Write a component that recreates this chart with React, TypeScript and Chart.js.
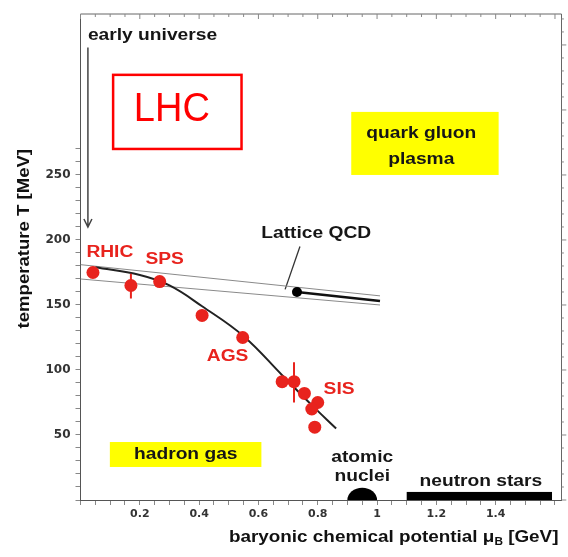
import { useEffect, useRef } from 'react';
import { Chart, registerables } from 'chart.js';

Chart.register(...registerables);

// ---------- data ----------
// chemical freeze-out points (mu_B in GeV, T in MeV)
const expMu = [0.042, 0.17, 0.267, 0.41, 0.547, 0.68, 0.72, 0.755, 0.8, 0.78, 0.79];
const expT = [175, 165, 168, 142, 125, 91, 91, 82, 75, 70, 56];
// vertical error bars
const errMu = [0.17, 0.72];
const errLow = [155, 75];
const errHigh = [174, 106];
// freeze-out curve
const curveMu = [0.05, 0.2, 0.3, 0.41, 0.55, 0.68, 0.78, 0.862];
const curveT = [179, 173, 165, 149, 126, 96, 73, 55];
// lattice QCD band
const latticeMu = [0, 1.01];
const latticeUpper = [181, 157];
const latticeLower = [170, 150];
const latticeLineMu = [0.73, 1.01];
const latticeLineT = [160, 153];
const latticePointMu = [0.73];
const latticePointT = [160];
// pointer from the "Lattice QCD" label
const pointerMu = [0.74, 0.69];
const pointerT = [195, 162];
// axes
const xMin = 0;
const xMax = 1.622;
const yMin = 0;
const yMax = 373.8;
const xTickLabels = [0.2, 0.4, 0.6, 0.8, 1, 1.2, 1.4];
const yTickLabels = [50, 100, 150, 200, 250];

const FONT = '"Liberation Sans", Arial, Helvetica, sans-serif';
const RED = '#e8231d';
const INK = '#161616';

function pts(xs: number[], ys: number[]) {
  return xs.map((x, i) => ({ x, y: ys[i] }));
}

function drawText(
  ctx: CanvasRenderingContext2D,
  s: string,
  x: number,
  y: number,
  o: { size?: number; weight?: string; color?: string; align?: CanvasTextAlign; stretch?: number; rotate?: number } = {}
) {
  const { size = 16, weight = 'bold', color = INK, align = 'center', stretch = 1.2, rotate = 0 } = o;
  ctx.save();
  ctx.translate(x, y);
  if (rotate) ctx.rotate(rotate);
  ctx.scale(stretch, 1);
  ctx.font = `${weight} ${size}px ${FONT}`;
  ctx.fillStyle = color;
  ctx.textAlign = align;
  ctx.textBaseline = 'middle';
  ctx.fillText(s, 0, 0);
  ctx.restore();
}

const decorPlugin = {
  id: 'decor',
  beforeDatasetsDraw(chart: any) {
    const { ctx, scales } = chart;
    const X = (v: number) => scales.x.getPixelForValue(v);
    const Y = (v: number) => scales.y.getPixelForValue(v);
    ctx.save();
    ctx.fillStyle = '#ffff00';
    // quark gluon plasma box
    ctx.fillRect(X(0.913), Y(298.5), X(1.41) - X(0.913), Y(250) - Y(298.5));
    // hadron gas box
    ctx.fillRect(X(0.099), Y(44.6), X(0.61) - X(0.099), Y(25.4) - Y(44.6));
    // LHC box
    ctx.strokeStyle = '#ff0000';
    ctx.lineWidth = 2.5;
    ctx.strokeRect(X(0.11), Y(327), X(0.543) - X(0.11), Y(270) - Y(327));
    ctx.restore();
  },
  afterDatasetsDraw(chart: any) {
    const { ctx, scales, chartArea } = chart;
    const X = (v: number) => scales.x.getPixelForValue(v);
    const Y = (v: number) => scales.y.getPixelForValue(v);
    ctx.save();

    // frame top / right with small ticks
    ctx.strokeStyle = '#666';
    ctx.lineWidth = 1;
    ctx.beginPath();
    ctx.moveTo(chartArea.left, chartArea.top);
    ctx.lineTo(chartArea.right, chartArea.top);
    ctx.lineTo(chartArea.right, chartArea.bottom);
    ctx.stroke();
    ctx.strokeStyle = '#888';
    ctx.beginPath();
    for (const t of scales.y.ticks) {
      if (t.value > 370) continue;
      const py = Y(t.value);
      const len = t.value % 50 === 0 ? 6 : 3;
      ctx.moveTo(chartArea.right, py);
      ctx.lineTo(chartArea.right + len * 0.8, py);
    }
    for (const t of scales.x.ticks) {
      const px = X(t.value);
      const major = Math.abs(t.value * 5 - Math.round(t.value * 5)) < 1e-6;
      ctx.moveTo(px, chartArea.top);
      ctx.lineTo(px, chartArea.top + (major ? 5 : 3));
    }
    ctx.stroke();

    // early universe arrow
    ctx.strokeStyle = '#444';
    ctx.lineWidth = 1.5;
    ctx.beginPath();
    ctx.moveTo(X(0.025), Y(348));
    ctx.lineTo(X(0.025), Y(210));
    ctx.moveTo(X(0.025) - 4, Y(210) - 8);
    ctx.lineTo(X(0.025), Y(210));
    ctx.lineTo(X(0.025) + 4, Y(210) - 8);
    ctx.stroke();

    // atomic nuclei half disc
    ctx.fillStyle = '#000';
    ctx.beginPath();
    const rx = X(1.0) - X(0.95);
    const ry = Y(0) - Y(9.5);
    ctx.ellipse(X(0.95), Y(0), rx, ry, 0, Math.PI, 2 * Math.PI);
    ctx.closePath();
    ctx.fill();
    // neutron star bar
    ctx.fillRect(X(1.1), Y(6.2), X(1.59) - X(1.1), Y(0) - Y(6.2));

    // texts
    drawText(ctx, 'early universe', X(0.025), Y(357), { align: 'left' });
    drawText(ctx, 'LHC', X(0.308), Y(300), { size: 40, weight: 'normal', color: '#ff0000', stretch: 0.95 });
    drawText(ctx, 'quark gluon', X(1.149), Y(282));
    drawText(ctx, 'plasma', X(1.149), Y(262));
    drawText(ctx, 'hadron gas', X(0.355), Y(34.6));
    drawText(ctx, 'atomic', X(0.95), Y(32.3));
    drawText(ctx, 'nuclei', X(0.95), Y(17.7));
    drawText(ctx, 'neutron stars', X(1.35), Y(13.8));
    drawText(ctx, 'Lattice QCD', X(0.795), Y(204.6));
    drawText(ctx, 'RHIC', X(0.099), Y(190), { color: RED });
    drawText(ctx, 'SPS', X(0.284), Y(184.6), { color: RED });
    drawText(ctx, 'AGS', X(0.496), Y(110), { color: RED });
    drawText(ctx, 'SIS', X(0.872), Y(84.6), { color: RED });

    // axis titles
    drawText(ctx, 'temperature T [MeV]', chartArea.left - 56, Y(201), {
      rotate: -Math.PI / 2,
      stretch: 1.16,
      color: '#111',
    });
    const st = 1.18;
    ctx.font = `bold 16px ${FONT}`;
    const p1 = 'baryonic chemical potential μ';
    const p3 = ' [GeV]';
    const w1 = ctx.measureText(p1).width * st;
    const w3 = ctx.measureText(p3).width * st;
    ctx.font = `bold 10px ${FONT}`;
    const w2 = ctx.measureText('B').width * st;
    const right = chartArea.right - 3;
    const ty = 538;
    let sx = right - (w1 + w2 + w3);
    drawText(ctx, p1, sx, ty, { align: 'left', stretch: st, color: '#111' });
    sx += w1;
    drawText(ctx, 'B', sx, ty + 4, { align: 'left', stretch: st, size: 10, color: '#111' });
    sx += w2;
    drawText(ctx, p3, sx, ty, { align: 'left', stretch: st, color: '#111' });

    ctx.restore();
  },
};

function errorBarData() {
  const out: { x: number; y: number | null }[] = [];
  errMu.forEach((m, i) => {
    out.push({ x: m, y: errLow[i] });
    out.push({ x: m, y: errHigh[i] });
    out.push({ x: m, y: null });
  });
  return out;
}

export default function App() {
  const ref = useRef<HTMLCanvasElement>(null);
  useEffect(() => {
    if (!ref.current) return;
    const chart = new Chart(ref.current, {
      type: 'scatter',
      data: {
        datasets: [
          {
            label: 'freeze-out points',
            data: pts(expMu, expT),
            pointRadius: 6.5,
            pointHoverRadius: 6.5,
            backgroundColor: RED,
            borderWidth: 0,
            showLine: false,
            order: 0,
          },
          {
            label: 'errors',
            data: errorBarData() as any,
            showLine: true,
            spanGaps: false,
            pointRadius: 0,
            borderColor: RED,
            borderWidth: 2,
            order: 1,
          },
          {
            label: 'lattice point',
            data: pts(latticePointMu, latticePointT),
            pointRadius: 5,
            backgroundColor: '#000',
            borderWidth: 0,
            showLine: false,
            order: 1,
          },
          {
            label: 'curve',
            data: pts(curveMu, curveT),
            showLine: true,
            pointRadius: 0,
            borderColor: '#222',
            borderWidth: 2,
            tension: 0.4,
            order: 2,
          },
          {
            label: 'lattice line',
            data: pts(latticeLineMu, latticeLineT),
            showLine: true,
            pointRadius: 0,
            borderColor: '#111',
            borderWidth: 2.5,
            order: 3,
          },
          {
            label: 'lattice upper',
            data: pts(latticeMu, latticeUpper),
            showLine: true,
            pointRadius: 0,
            borderColor: '#8a8a8a',
            borderWidth: 1,
            order: 4,
          },
          {
            label: 'lattice lower',
            data: pts(latticeMu, latticeLower),
            showLine: true,
            pointRadius: 0,
            borderColor: '#8a8a8a',
            borderWidth: 1,
            order: 4,
          },
          {
            label: 'pointer',
            data: pts(pointerMu, pointerT),
            showLine: true,
            pointRadius: 0,
            borderColor: '#333',
            borderWidth: 1.3,
            order: 4,
          },
        ],
      },
      options: {
        animation: false,
        responsive: false,
        devicePixelRatio: 1,
        layout: { padding: { top: 14, right: 5, left: 0, bottom: 0 } },
        plugins: { legend: { display: false }, tooltip: { enabled: false } },
        events: [],
        scales: {
          x: {
            type: 'linear',
            min: xMin,
            max: xMax,
            afterBuildTicks: (scale: any) => {
              const t = [];
              for (let i = 0; i <= 32; i++) t.push({ value: Math.round(i * 5) / 100 });
              scale.ticks = t;
            },
            afterFit: (scale: any) => {
              scale.height = 57;
            },
            ticks: {
              autoSkip: false,
              maxRotation: 0,
              padding: 3,
              color: '#333',
              font: { family: '"DejaVu Sans"', weight: 'bold', size: 11 },
              callback: (v: any) => {
                const r = Math.round(Number(v) * 100) / 100;
                return xTickLabels.includes(r) ? String(r) : '';
              },
            },
            grid: {
              drawOnChartArea: false,
              drawTicks: true,
              tickLength: 5,
              tickColor: '#888',
            },
            border: { display: true, color: '#555', width: 1 },
          },
          y: {
            type: 'linear',
            min: yMin,
            max: yMax,
            afterBuildTicks: (scale: any) => {
              const t = [];
              for (let i = 0; i <= 37; i++) t.push({ value: i * 10 });
              scale.ticks = t;
            },
            afterFit: (scale: any) => {
              scale.width = 80.5;
            },
            ticks: {
              autoSkip: false,
              padding: 5,
              color: '#333',
              font: { family: '"DejaVu Sans"', weight: 'bold', size: 12 },
              callback: (v: any) => (yTickLabels.includes(Number(v)) ? String(v) : ''),
            },
            grid: {
              drawOnChartArea: false,
              drawTicks: true,
              tickLength: 5,
              tickColor: (c: any) => (c.tick && c.tick.value > 272 ? 'rgba(0,0,0,0)' : '#888'),
            },
            border: { display: true, color: '#555', width: 1 },
          },
        },
      },
      plugins: [decorPlugin],
    } as any);
    return () => chart.destroy();
  }, []);
  return (
    <div style={{ position: 'absolute', left: 0, top: 0, width: 568, height: 557, background: '#fff' }}>
      <canvas ref={ref} width={568} height={557} style={{ display: 'block' }} />
    </div>
  );
}
